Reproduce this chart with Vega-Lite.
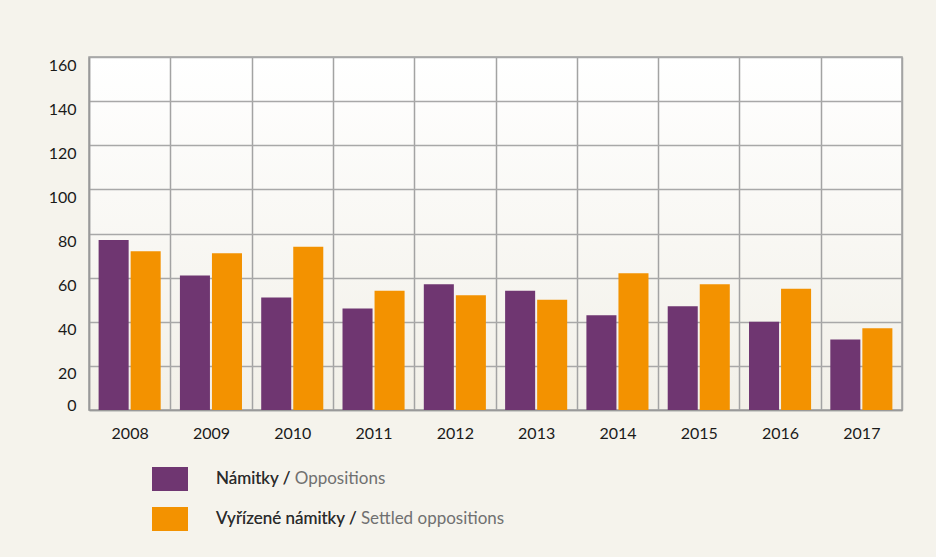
{
  "$schema": "https://vega.github.io/schema/vega-lite/v6.json",
  "width": 813,
  "height": 353,
  "autosize": {"type": "none"},
  "padding": {"left": 89, "top": 57, "right": 34, "bottom": 147},
  "background": "#f5f3ec",
  "data": {
    "values": [
      {"year": "2008", "serie": "Námitky / Oppositions", "value": 77},
      {"year": "2008", "serie": "Vyřízené námitky / Settled oppositions", "value": 72},
      {"year": "2009", "serie": "Námitky / Oppositions", "value": 61},
      {"year": "2009", "serie": "Vyřízené námitky / Settled oppositions", "value": 71},
      {"year": "2010", "serie": "Námitky / Oppositions", "value": 51},
      {"year": "2010", "serie": "Vyřízené námitky / Settled oppositions", "value": 74},
      {"year": "2011", "serie": "Námitky / Oppositions", "value": 46},
      {"year": "2011", "serie": "Vyřízené námitky / Settled oppositions", "value": 54},
      {"year": "2012", "serie": "Námitky / Oppositions", "value": 57},
      {"year": "2012", "serie": "Vyřízené námitky / Settled oppositions", "value": 52},
      {"year": "2013", "serie": "Námitky / Oppositions", "value": 54},
      {"year": "2013", "serie": "Vyřízené námitky / Settled oppositions", "value": 50},
      {"year": "2014", "serie": "Námitky / Oppositions", "value": 43},
      {"year": "2014", "serie": "Vyřízené námitky / Settled oppositions", "value": 62},
      {"year": "2015", "serie": "Námitky / Oppositions", "value": 47},
      {"year": "2015", "serie": "Vyřízené námitky / Settled oppositions", "value": 57},
      {"year": "2016", "serie": "Námitky / Oppositions", "value": 40},
      {"year": "2016", "serie": "Vyřízené námitky / Settled oppositions", "value": 55},
      {"year": "2017", "serie": "Námitky / Oppositions", "value": 32},
      {"year": "2017", "serie": "Vyřízené námitky / Settled oppositions", "value": 37}
    ]
  },
  "mark": {"type": "bar"},
  "encoding": {
    "x": {
      "field": "year",
      "type": "nominal",
      "scale": {"paddingInner": 0, "paddingOuter": 0},
      "axis": {
        "title": null,
        "tickBand": "extent",
        "grid": true,
        "gridColor": "#a3a3a3",
        "gridWidth": 1.5,
        "ticks": false,
        "domain": true,
        "domainColor": "#999999",
        "domainWidth": 1.5,
        "labelAngle": 0,
        "labelFont": "Lato",
        "labelFontSize": 16,
        "labelColor": "#1a1a1a",
        "labelPadding": 15
      }
    },
    "xOffset": {
      "field": "serie",
      "type": "nominal",
      "scale": {"paddingInner": 0.0625, "paddingOuter": 0.3}
    },
    "y": {
      "field": "value",
      "type": "quantitative",
      "scale": {"domain": [0, 160]},
      "axis": {
        "title": null,
        "values": [0, 20, 40, 60, 80, 100, 120, 140, 160],
        "grid": true,
        "gridColor": "#a8a8a8",
        "gridWidth": 1.5,
        "ticks": false,
        "domain": true,
        "domainColor": "#999999",
        "domainWidth": 1.5,
        "labelFont": "Lato",
        "labelFontSize": 16,
        "labelColor": "#1a1a1a",
        "labelPadding": 13,
        "labelBaseline": {"condition": {"test": "datum.value == 0", "value": "alphabetic"}, "value": "top"}
      }
    },
    "fill": {
      "field": "serie",
      "type": "nominal",
      "scale": {
        "domain": ["Námitky / Oppositions", "Vyřízené námitky / Settled oppositions"],
        "range": ["#6f3671", "#f39200"]
      },
      "legend": {
        "orient": "none",
        "legendX": 69,
        "legendY": 410,
        "title": null,
        "padding": 0,
        "symbolType": "M-1.5,-1H1.5V1H-1.5Z",
        "symbolSize": 576,
        "symbolStrokeWidth": 0,
        "symbolOpacity": 1,
        "labelOffset": 34,
        "labelLimit": 500,
        "labelFont": "Lato",
        "labelFontSize": 17,
        "labelColor": "#707070",
        "rowPadding": 16,
        "encode": {
          "symbols": {
            "update": {
              "fill": {"scale": "fill", "field": "value"},
              "opacity": {"value": 1}
            }
          }
        }
      }
    },
    "opacity": {
      "field": "serie",
      "type": "ordinal",
      "scale": {"type": "ordinal", "range": [1, 1]},
      "legend": {
        "orient": "none",
        "legendX": 69,
        "legendY": 410,
        "title": null,
        "padding": 0,
        "symbolType": "M0,-1L0,1",
        "symbolSize": 576,
        "symbolStrokeWidth": 0,
        "symbolFillColor": "transparent",
        "symbolStrokeColor": "transparent",
        "labelOffset": 34,
        "labelLimit": 500,
        "labelFont": "Lato",
        "labelFontSize": 17,
        "labelColor": "#2a2a2a",
        "labelExpr": "split(datum.label, ' / ')[0] + ' /'",
        "rowPadding": 16
      }
    }
  },
  "config": {
    "view": {
      "stroke": "#a0a0a0",
      "strokeWidth": 1.5,
      "fill": {
        "gradient": "linear",
        "x1": 0, "y1": 0, "x2": 0, "y2": 1,
        "stops": [
          {"offset": 0, "color": "#ffffff"},
          {"offset": 1, "color": "#f2f0e8"}
        ]
      }
    }
  }
}
